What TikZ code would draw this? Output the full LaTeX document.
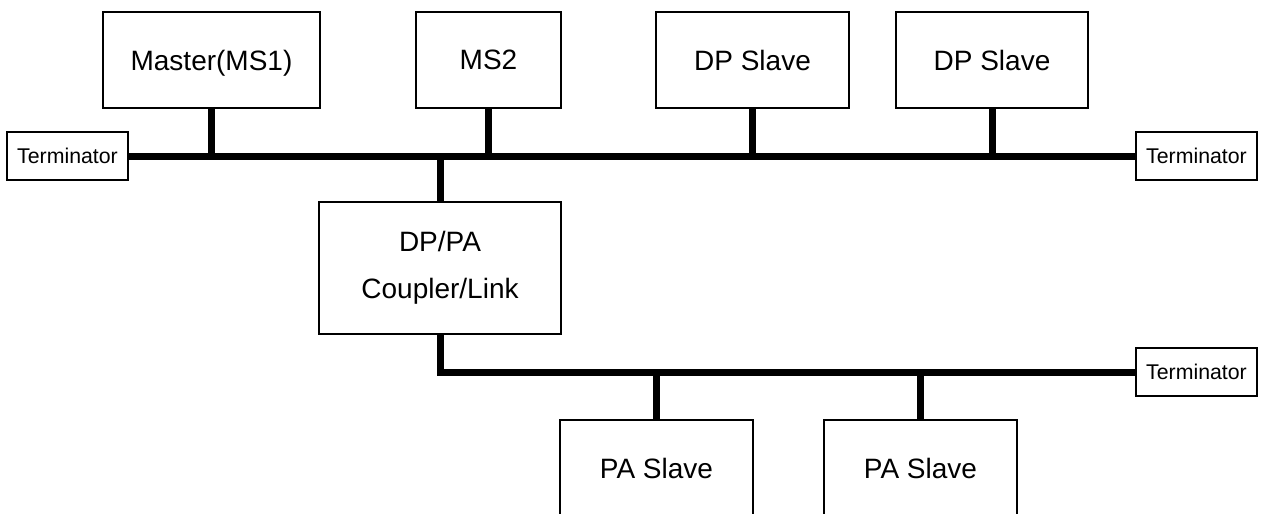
\documentclass[tikz,border=0pt]{standalone}
\usepackage{fontspec}
\setmainfont{Liberation Sans}
\tikzset{
  box/.style={draw,line width=1.2pt,inner sep=0,minimum height=96pt,
    font=\fontsize{28}{47}\selectfont,align=center},
  one/.style={text depth=0pt},
  term/.style={draw,line width=1.2pt,inner sep=0,minimum width=121pt,
    minimum height=48pt,text depth=0pt,font=\fontsize{21.3}{24}\selectfont},
  bus/.style={line width=7pt}
}
\begin{document}
\begin{tikzpicture}[x=1pt,y=-1pt]
    \useasboundingbox (0,0) rectangle (1261,514);
    \clip (0,0) rectangle (1261,514);

    % DP segment
    \node[term] (termL) at (67.5,156) {Terminator};
    \node[term] (termR) at (1196.5,156) {Terminator};
    \node[box,one,minimum width=217pt] (master) at (211.5,60) {Master(MS1)};
    \node[box,one,minimum width=145pt] (ms2) at (488.5,60) {MS2};
    \node[box,one,minimum width=193pt] (dpA) at (752.5,60) {DP Slave};
    \node[box,one,minimum width=192pt] (dpB) at (992,60) {DP Slave};
    \draw[bus] (termL) -- (termR);
    \draw[bus] (master.south) -- (master.south |- termL.east);
    \draw[bus] (ms2.south) -- (ms2.south |- termL.east);
    \draw[bus] (dpA.south) -- (dpA.south |- termL.east);
    \draw[bus] (dpB.south) -- (dpB.south |- termL.east);

    % coupler
    \node[box,minimum width=242pt,minimum height=132pt] (coupler) at (440,268) {DP/PA\\Coupler/Link};
    \draw[bus] (coupler.north) -- (coupler.north |- termL.east);

    % PA segment
    \node[term] (termPA) at (1196.5,372) {Terminator};
    \node[box,one,minimum width=193pt] (paA) at (656.5,468) {PA Slave};
    \node[box,one,minimum width=193pt] (paB) at (920.5,468) {PA Slave};
    \draw[bus] (coupler.south) |- (termPA.west);
    \draw[bus] (paA.north) -- (paA.north |- termPA.west);
    \draw[bus] (paB.north) -- (paB.north |- termPA.west);
\end{tikzpicture}
\end{document}
